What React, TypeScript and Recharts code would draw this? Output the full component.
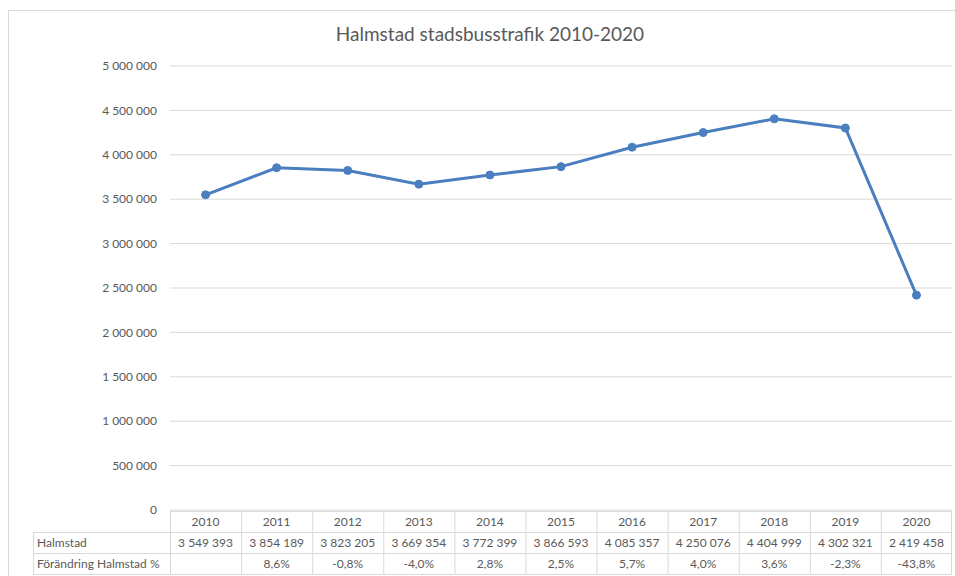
import { LineChart, Line, XAxis, YAxis, CartesianGrid } from 'recharts';

const years = ['2010', '2011', '2012', '2013', '2014', '2015', '2016', '2017', '2018', '2019', '2020'];
const halmstad = [3549393, 3854189, 3823205, 3669354, 3772399, 3866593, 4085357, 4250076, 4404999, 4302321, 2419458];
const changePct = ['', '8,6%', '-0,8%', '-4,0%', '2,8%', '2,5%', '5,7%', '4,0%', '3,6%', '-2,3%', '-43,8%'];
const yTicks = [0, 500000, 1000000, 1500000, 2000000, 2500000, 3000000, 3500000, 4000000, 4500000, 5000000];
const rowLabels = ['Halmstad', 'Förändring Halmstad %'];

const data = years.map((year, i) => ({ year, value: halmstad[i], change: changePct[i] }));

const W = 955;
const H = 576;
const PLOT_LEFT = 170;
const PLOT_RIGHT = 952;
const BAND = (PLOT_RIGHT - PLOT_LEFT) / years.length;
const ROW_Y = [511, 532, 553, 574];
const TABLE_LEFT = 33;
const GRID = '#d9d9d9';
const TEXT = '#595959';
const FONT = 'Lato, "Open Sans", sans-serif';

const fmt = (v: number) => String(v).replace(/\B(?=(\d{3})+(?!\d))/g, ' ');

function TableTick(props: any) {
    const { x, payload } = props;
    const i = payload.index;
    const l = x - BAND / 2;
    const r = x + BAND / 2;
    return (
        <g>
            {ROW_Y.map((ry) => (
                <line key={ry} x1={l} x2={r} y1={ry + 0.5} y2={ry + 0.5} stroke={GRID} />
            ))}
            <line x1={l + 0.5} x2={l + 0.5} y1={ROW_Y[0]} y2={ROW_Y[3]} stroke={GRID} />
            {i === years.length - 1 && (
                <line x1={r - 0.5} x2={r - 0.5} y1={ROW_Y[0]} y2={ROW_Y[3]} stroke={GRID} />
            )}
            <text x={x} y={ROW_Y[0] + 15} textAnchor="middle" fontSize={12} fill={TEXT} fontFamily={FONT}>
                {years[i]}
            </text>
            <text x={x} y={ROW_Y[1] + 15} textAnchor="middle" fontSize={12} fill={TEXT} fontFamily={FONT}>
                {fmt(halmstad[i])}
            </text>
            <text x={x} y={ROW_Y[2] + 15} textAnchor="middle" fontSize={12} fill={TEXT} fontFamily={FONT}>
                {changePct[i]}
            </text>
            {i === 0 && (
                <g>
                    <line x1={TABLE_LEFT} x2={l} y1={ROW_Y[1] + 0.5} y2={ROW_Y[1] + 0.5} stroke={GRID} />
                    <line x1={TABLE_LEFT} x2={l} y1={ROW_Y[2] + 0.5} y2={ROW_Y[2] + 0.5} stroke={GRID} />
                    <line x1={TABLE_LEFT} x2={l} y1={ROW_Y[3] + 0.5} y2={ROW_Y[3] + 0.5} stroke={GRID} />
                    <line x1={TABLE_LEFT + 0.5} x2={TABLE_LEFT + 0.5} y1={ROW_Y[1]} y2={ROW_Y[3]} stroke={GRID} />
                    {rowLabels.map((lab, k) => (
                        <text key={lab} x={TABLE_LEFT + 4} y={ROW_Y[k + 1] + 15} fontSize={12} fill={TEXT} fontFamily={FONT}>
                            {lab}
                        </text>
                    ))}
                </g>
            )}
        </g>
    );
}

export default function App() {
    return (
        <div style={{ position: 'absolute', left: 0, top: 0, width: W, height: H, background: '#fff', overflow: 'hidden' }}>
            <div style={{ position: 'absolute', left: 8, top: 10, width: 960, height: 600, border: `1px solid ${GRID}` }} />
            <div
                style={{
                    position: 'absolute',
                    left: 0,
                    width: W,
                    top: 22,
                    textAlign: 'center',
                    fontFamily: FONT,
                    fontSize: 19,
                    color: TEXT,
                    paddingLeft: 25,
                    boxSizing: 'border-box',
                }}
            >
                Halmstad stadsbusstrafik 2010-2020
            </div>
            <div style={{ position: 'absolute', left: 0, top: 0 }}>
                <LineChart
                    width={W}
                    height={H}
                    data={data}
                    margin={{ top: 66, right: W - PLOT_RIGHT, bottom: 2, left: PLOT_LEFT - 100 }}
                >
                    <CartesianGrid vertical={false} stroke={GRID} strokeWidth={1} />
                    <XAxis
                        dataKey="year"
                        scale="band"
                        height={64}
                        axisLine={false}
                        tickLine={false}
                        interval={0}
                        tick={<TableTick />}
                    />
                    <YAxis
                        width={100}
                        domain={[0, 5000000]}
                        ticks={yTicks}
                        axisLine={false}
                        tickLine={false}
                        tickMargin={7}
                        tickFormatter={fmt}
                        tick={{ fontSize: 12, fill: TEXT, fontFamily: FONT }}
                    />
                    <Line
                        type="linear"
                        dataKey="value"
                        stroke="#4a7ebf"
                        strokeWidth={3}
                        dot={{ r: 4, fill: '#4a7ebf', stroke: '#4a7ebf', strokeWidth: 1 }}
                        isAnimationActive={false}
                    />
                </LineChart>
            </div>
        </div>
    );
}
